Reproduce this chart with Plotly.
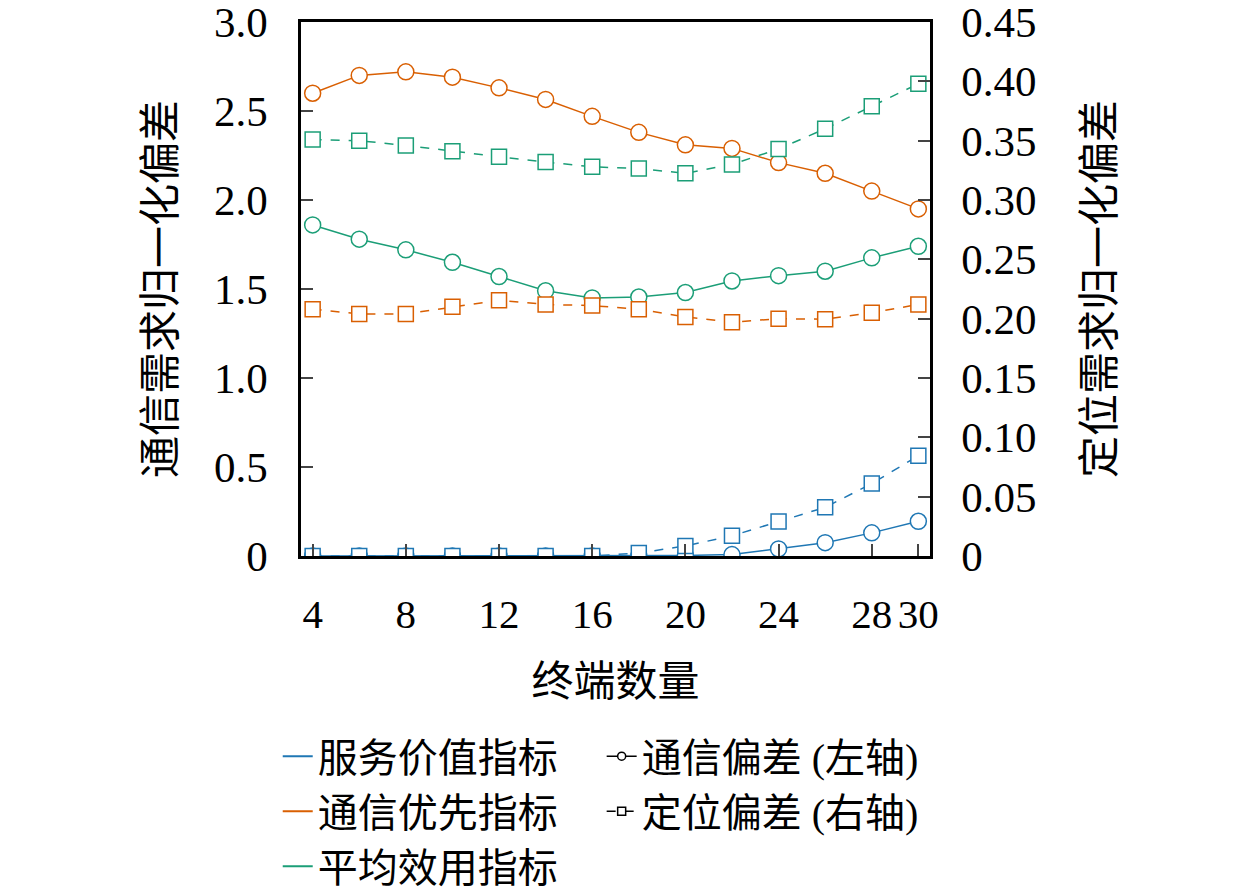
import plotly.graph_objects as go

# datos
terminales = [4, 6, 8, 10, 12, 14, 16, 18, 20, 22, 24, 26, 28, 30]

# desviacion de comunicacion (eje izquierdo)
com_servicio = [0, 0, 0, 0, 0, 0, 0, 0, 0.003, 0.008, 0.04, 0.075, 0.13, 0.195]
com_prioridad = [2.60, 2.70, 2.72, 2.69, 2.63, 2.565, 2.47, 2.38, 2.31, 2.29, 2.21, 2.15, 2.05, 1.95]
com_promedio = [1.86, 1.78, 1.72, 1.65, 1.57, 1.49, 1.45, 1.455, 1.48, 1.545, 1.575, 1.60, 1.675, 1.74]

# desviacion de posicionamiento (eje derecho)
pos_servicio = [0, 0, 0, 0, 0, 0, 0, 0.0025, 0.0085, 0.017, 0.029, 0.041, 0.061, 0.0845]
pos_prioridad = [0.208, 0.204, 0.204, 0.210, 0.2155, 0.212, 0.211, 0.208, 0.2015, 0.197, 0.200, 0.1995, 0.205, 0.212]
pos_promedio = [0.351, 0.350, 0.346, 0.341, 0.3365, 0.332, 0.328, 0.3265, 0.3225, 0.330, 0.343, 0.360, 0.379, 0.398]

nombres = ["服务价值指标", "通信优先指标", "平均效用指标"]
colores = ["#1F77B4", "#D95F02", "#1B9E77"]

xticks = [4, 8, 12, 16, 20, 24, 28, 30]
yticks_izq = [0, 0.5, 1.0, 1.5, 2.0, 2.5, 3.0]
yticks_izq_txt = ["0", "0.5", "1.0", "1.5", "2.0", "2.5", "3.0"]
yticks_der = [0, 0.05, 0.10, 0.15, 0.20, 0.25, 0.30, 0.35, 0.40, 0.45]
yticks_der_txt = ["0", "0.05", "0.10", "0.15", "0.20", "0.25", "0.30", "0.35", "0.40", "0.45"]

serif = "Liberation Serif, Noto Sans CJK SC"

fig = go.Figure()

com = [com_servicio, com_prioridad, com_promedio]
pos = [pos_servicio, pos_prioridad, pos_promedio]

# lineas con circulos (eje izq)
for c, col in zip(com, colores):
    fig.add_trace(go.Scatter(
        x=terminales, y=c, mode="lines+markers", showlegend=False,
        line=dict(color=col, width=1.5),
        marker=dict(symbol="circle", size=16, color="white", line=dict(color=col, width=1.5)),
    ))

# lineas con cuadros (eje der)
for p, col in zip(pos, colores):
    fig.add_trace(go.Scatter(
        x=terminales, y=p, yaxis="y2", mode="lines+markers", showlegend=False,
        line=dict(color=col, width=1.5, dash="dash"),
        marker=dict(symbol="square", size=15, color="white", line=dict(color=col, width=1.5)),
    ))

# leyenda de colores
for n, col in zip(nombres, colores):
    fig.add_trace(go.Scatter(x=[None], y=[None], mode="lines", name=n,
                             line=dict(color=col, width=2), legend="legend"))

# leyenda de marcadores
fig.add_trace(go.Scatter(x=[None], y=[None], mode="lines+markers", name="通信偏差 (左轴)",
                         line=dict(color="black", width=1.5),
                         marker=dict(symbol="circle", size=8, color="white", line=dict(color="black", width=1.5)),
                         legend="legend2"))
fig.add_trace(go.Scatter(x=[None], y=[None], mode="lines+markers", name="定位偏差 (右轴)",
                         line=dict(color="black", width=1.5, dash="dash"),
                         marker=dict(symbol="square", size=8, color="white", line=dict(color="black", width=1.5)),
                         legend="legend2"))

# la pagina agrega 8px de margen, por eso 1252x881
fig.update_layout(
    width=1252, height=881,
    paper_bgcolor="white", plot_bgcolor="white",
    margin=dict(l=293, r=330, t=14, b=333, autoexpand=False),
    font=dict(family=serif, size=40, color="black"),
    xaxis=dict(
        range=[3.5, 30.5], tickvals=xticks, ticks="inside", ticklen=12, tickwidth=2,
        showline=True, linecolor="black", linewidth=2.5, mirror=True, showgrid=False, zeroline=False,
        ticklabelstandoff=20, tickfont=dict(size=41), automargin=False, ticklabeloverflow="allow",
        title=dict(text="终端数量", font=dict(size=42), standoff=31),
    ),
    yaxis=dict(
        range=[0, 3.0], tickvals=yticks_izq, ticktext=yticks_izq_txt, ticks="inside", ticklen=12, tickwidth=2,
        showline=True, linecolor="black", linewidth=2.5, showgrid=False, zeroline=False,
        ticklabelstandoff=22, tickfont=dict(size=43), automargin=False, ticklabeloverflow="allow",
        title=dict(text="通信需求归一化偏差", font=dict(size=42), standoff=26),
    ),
    yaxis2=dict(
        range=[0, 0.45], tickvals=yticks_der, ticktext=yticks_der_txt, ticks="inside", ticklen=12, tickwidth=2,
        overlaying="y", side="right", automargin=False, ticklabeloverflow="allow",
        showline=True, linecolor="black", linewidth=2.5, showgrid=False, zeroline=False,
        ticklabelstandoff=20, tickfont=dict(size=43),
        title=dict(text="定位需求归一化偏差", font=dict(size=42), standoff=50),
    ),
    legend=dict(x=-0.037, y=-0.314, xanchor="left", yanchor="top", bgcolor="rgba(0,0,0,0)",
                font=dict(size=40), tracegroupgap=0, itemwidth=30),
    legend2=dict(x=0.478, y=-0.314, xanchor="left", yanchor="top", bgcolor="rgba(0,0,0,0)",
                 font=dict(size=40), tracegroupgap=0, itemwidth=30),
)

fig.write_html("out.html")
